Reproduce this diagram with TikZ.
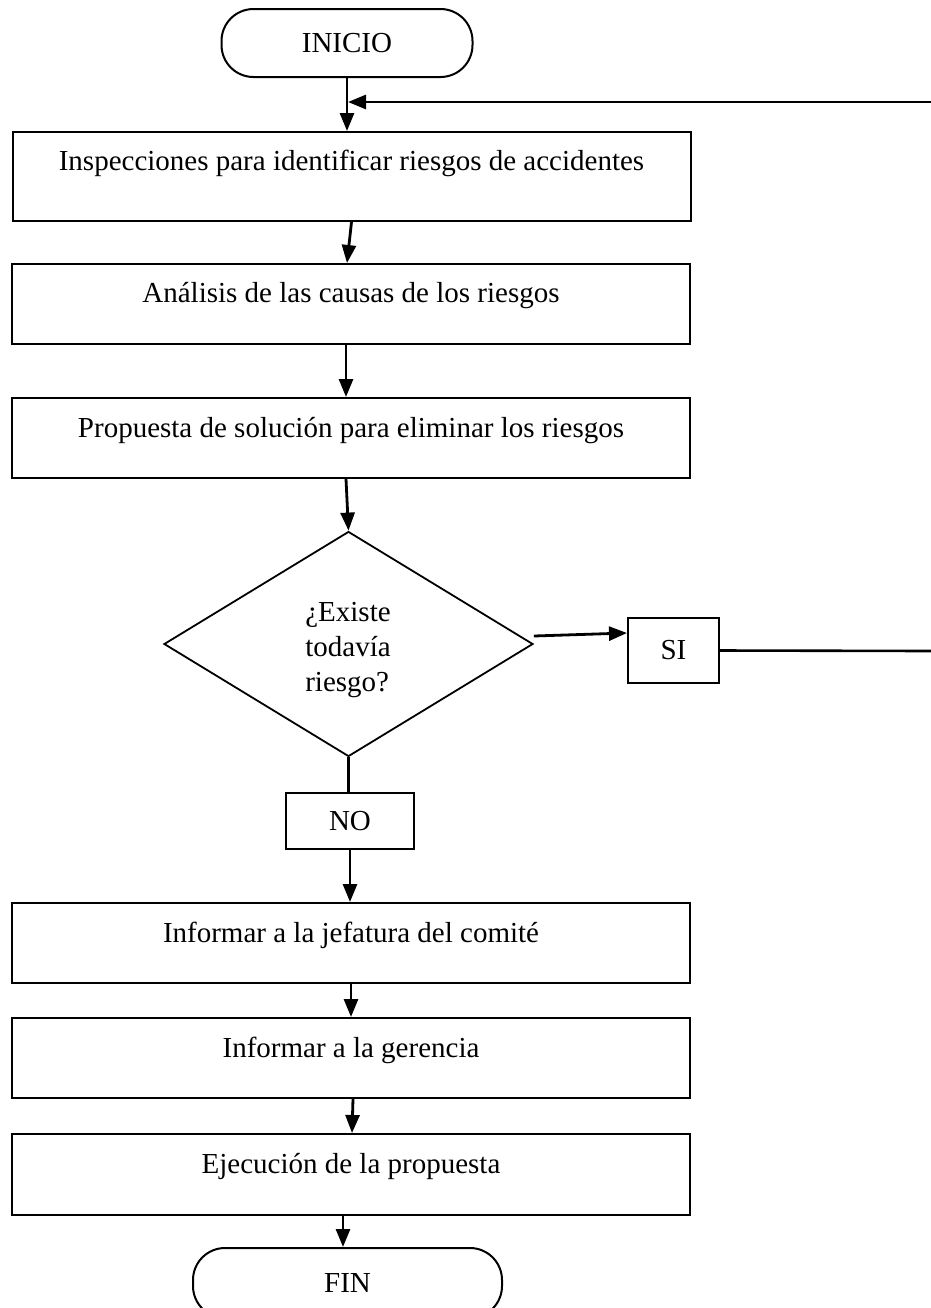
\documentclass[tikz,border=0pt]{standalone}
\usepackage{fontspec}
\setmainfont{Liberation Serif}
\usetikzlibrary{arrows.meta,shapes.geometric}
\begin{document}
\begin{tikzpicture}[x=0.5pt,y=-0.5pt,
  every node/.style={font=\fontsize{14.5pt}{17.5pt}\selectfont},
  procbox/.style={draw,line width=1pt,minimum width=339pt,inner sep=0pt},
  terminal/.style={draw,line width=1pt,rounded corners=16pt,inner sep=0pt},
  tagbox/.style={draw,line width=1pt,inner sep=0pt},
  decision/.style={draw,diamond,line width=0.9pt,minimum width=184.5pt,minimum height=112.5pt,inner sep=0pt,aspect=1.64},
  txt/.style={inner sep=0pt,anchor=base},
  arr/.style={line width=1.4pt,-{Triangle[length=9pt,width=7pt]}},
  ln/.style={line width=1.3pt}]
\useasboundingbox (0,0) rectangle (931,1308);
\clip (0,0) rectangle (931,1308);

\node[terminal,minimum width=125.5pt,minimum height=34pt] (ini) at (347,43) {INICIO};

\node[procbox,minimum height=44.5pt] (b1) at (351.5,176.5) {};
\node[txt] (t1) at (351.5,170) {Inspecciones para identificar riesgos de accidentes};

\node[procbox,minimum height=40pt] (b2) at (351,304) {};
\node[txt] (t2) at (351,302) {Análisis de las causas de los riesgos};

\node[procbox,minimum height=40pt] (b3) at (351,438) {};
\node[txt] (t3) at (351,437) {Propuesta de solución para eliminar los riesgos};

\node[decision] (d) at (348.5,644) {};
\node[inner sep=0pt,align=left] (dt) at (348,650) {¿Existe\\todavía\\riesgo?};

\node[tagbox,minimum width=45.5pt,minimum height=32.5pt] (si) at (673.5,650.5) {SI};
\node[tagbox,minimum width=64pt,minimum height=28pt] (no) at (350,821) {NO};

\node[procbox,minimum height=40pt] (b4) at (351,943) {};
\node[txt] (t4) at (351,942) {Informar a la jefatura del comité};

\node[procbox,minimum height=40pt] (b5) at (351,1058) {};
\node[txt] (t5) at (351,1057) {Informar a la gerencia};

\node[procbox,minimum height=40.5pt] (b6) at (351,1174.5) {};
\node[txt] (t6) at (351,1173) {Ejecución de la propuesta};

\node[terminal,minimum width=154.5pt,minimum height=35pt] (fin) at (347.5,1283) {FIN};

% connectors
\coordinate (j) at (348,102);
\coordinate (r2) at (931,102);
\coordinate (r1) at (931,651);
\draw[arr] (ini.south) -- (ini.south |- b1.north);
\draw[arr] (r2) -- (j);
\draw[arr] (b1.south) -- ([xshift=-2pt]b2.north);
\draw[arr] ([xshift=-2.5pt]b2.south) -- ([xshift=-2.5pt]b3.north);
\draw[arr] ([xshift=-2.5pt]b3.south) -- (d.north);
\draw[ln] (d.south) -- (d.south |- no.north);
\draw[arr] (no.south) -- (no.south |- b4.north);
\draw[arr] (b4.south) -- (b5.north);
\draw[arr] ([xshift=1pt]b5.south) -- ([xshift=0.5pt]b6.north);
\draw[arr] ([xshift=-4pt]b6.south) -- ([xshift=-4pt]b6.south |- fin.north);
\draw[arr] ([yshift=4pt]d.east) -- ([yshift=8.75pt]si.west);
\draw[ln] (si.east) -- (r1);
\end{tikzpicture}
\end{document}
